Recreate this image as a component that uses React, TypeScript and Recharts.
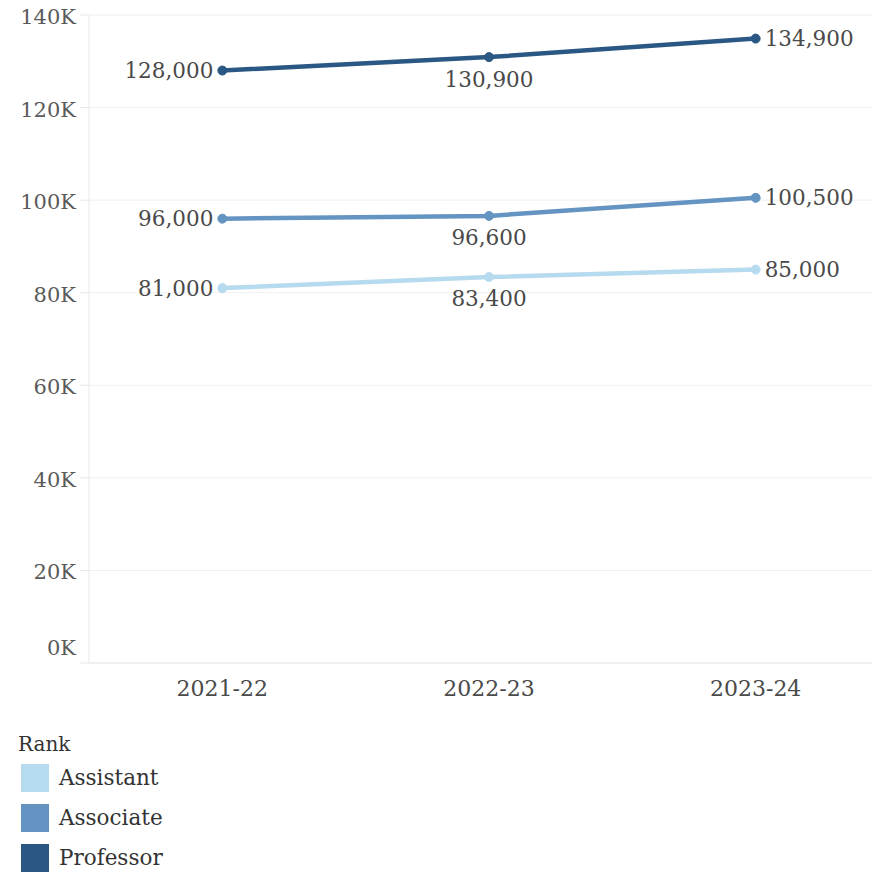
import { LineChart, Line, XAxis, YAxis, CartesianGrid, LabelList } from "recharts";

const years = ["2021-22", "2022-23", "2023-24"];
const assistant = [81000, 83400, 85000];
const associate = [96000, 96600, 100500];
const professor = [128000, 130900, 134900];
const yTicks = [0, 20000, 40000, 60000, 80000, 100000, 120000, 140000];

const ranks = [
  { key: "assistant", name: "Assistant", color: "#b6daee" },
  { key: "associate", name: "Associate", color: "#6494c1" },
  { key: "professor", name: "Professor", color: "#2a5783" },
];

const data = years.map((y, i) => ({
  year: y,
  idx: i,
  assistant: assistant[i],
  associate: associate[i],
  professor: professor[i],
}));

const FONT = "'DejaVu Serif', serif";
const fmt = (v: number) => v.toLocaleString("en-US");

const PointLabel = (props: any) => {
  const { x, y, value, index } = props;
  let tx = x, ty = y, anchor: "start" | "middle" | "end" = "middle";
  if (index === 0) { tx = x - 9; anchor = "end"; }
  else if (index === 1) { ty = y + 22; }
  else { tx = x + 9; anchor = "start"; }
  return (
    <text x={tx} y={ty} textAnchor={anchor} dominantBaseline="central"
      fontFamily={FONT} fontSize={21.5} fill="#4a4a4a">
      {fmt(value)}
    </text>
  );
};

const YTick = (props: any) => {
  const { x, y, payload } = props;
  const v = payload.value;
  return (
    <text x={x - 2} y={v === 0 ? y - 15 : y + 2} textAnchor="end" dominantBaseline="central"
      fontFamily={FONT} fontSize={21} fill="#5a5a5a">
      {`${v / 1000}K`}
    </text>
  );
};

const XTick = (props: any) => {
  const { x, y, payload } = props;
  return (
    <text x={x} y={y + 17} textAnchor="middle" dominantBaseline="central"
      fontFamily={FONT} fontSize={22} fill="#4a4a4a">
      {years[payload.value]}
    </text>
  );
};

export default function App() {
  return (
    <div style={{ position: "relative", margin: "-8px 0 0 -8px", width: 880, height: 873, background: "#fff" }}>
      <div style={{ width: 880, height: 700, overflow: "hidden" }}>
        <LineChart width={900} height={700} data={data} margin={{ top: 15, right: 11, left: 0, bottom: 0 }}>
          <CartesianGrid vertical={false} stroke="#efefef" />
          <XAxis xAxisId="div" type="number" domain={[-0.5, 2.5]} ticks={[-0.5, 0.5, 1.5, 2.5]}
            dataKey="idx" height={0} tick={false} axisLine={false} tickSize={9}
            tickLine={{ stroke: "#e8e8e8" }} />
          <XAxis dataKey="idx" type="number" domain={[-0.5, 2.5]} ticks={[0, 1, 2]}
            height={37} tick={<XTick />} tickLine={false} axisLine={{ stroke: "#e8e8e8" }} />
          <YAxis width={89} domain={[0, 140000]} ticks={yTicks} tick={<YTick />}
            tickSize={9} tickLine={{ stroke: "#e8e8e8" }} axisLine={{ stroke: "#e8e8e8" }} />
          {ranks.map((r) => (
            <Line key={r.key} dataKey={r.key} name={r.name} stroke={r.color} strokeWidth={4.5}
              dot={{ r: 4.5, fill: r.color, stroke: r.color, strokeWidth: 1 }} activeDot={false}
              isAnimationActive={false}>
              <LabelList dataKey={r.key} content={<PointLabel />} />
            </Line>
          ))}
        </LineChart>
      </div>
      <div style={{ position: "absolute", left: 18, top: 731, fontFamily: FONT, color: "#333" }}>
        <div style={{ fontSize: 20, height: 27, lineHeight: "27px" }}>Rank</div>
        {ranks.map((r) => (
          <div key={r.key} style={{ display: "flex", alignItems: "center", height: 28, marginTop: r.key === "assistant" ? 6 : 12 }}>
            <div style={{ width: 28, height: 28, background: r.color, marginLeft: 3, marginRight: 10 }} />
            <span style={{ fontSize: 21.5, lineHeight: "28px" }}>{r.name}</span>
          </div>
        ))}
      </div>
    </div>
  );
}
